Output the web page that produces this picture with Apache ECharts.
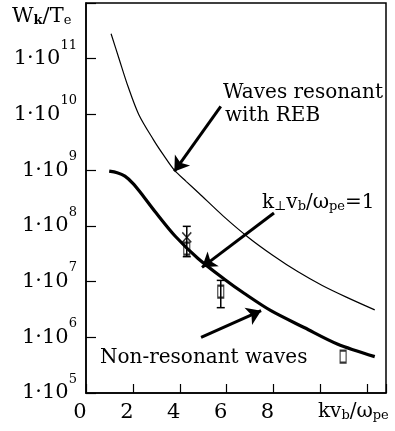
<!DOCTYPE html>
<html>
<head>
<meta charset="utf-8">
<script src="https://cdn.jsdelivr.net/npm/echarts@6/dist/echarts.min.js"></script>
<style>
  html, body { margin: 0; padding: 0; background: #fff; }
  #chart { width: 395px; height: 431px; }
</style>
</head>
<body>
<div id="chart"></div>
<script>
// upper curve: waves resonant with REB
const thinX = [1.07, 1.41, 1.79, 2.25, 2.88, 3.31, 3.77, 4.27, 4.82, 5.87, 6.93, 7.98, 9.03, 10.08, 11.13, 12.32];
const thinY = [2.8e11, 1.0e11, 3.2e10, 1.0e10, 3.5e9, 1.86e9, 1.0e9, 6.3e8, 3.85e8, 1.48e8, 6.2e7, 2.94e7, 1.51e7, 8.5e6, 5.2e6, 3.1e6];
// lower curve: non-resonant waves
const thickX = [0.99, 1.33, 1.66, 2.0, 2.34, 2.97, 3.81, 4.78, 5.92, 6.76, 7.89, 9.33, 10.72, 12.32];
const thickY = [9.6e8, 9.0e8, 7.8e8, 5.8e8, 3.9e8, 1.75e8, 6.5e7, 2.6e7, 1.09e7, 6.1e6, 3.0e6, 1.48e6, 7.6e5, 4.5e5];
// measured points (open squares) with error bars
const boxX = [4.3, 5.75, 10.97];
const boxY = [3.9e7, 6.6e6, 4.5e5];
const errLow = [2.8e7, 3.4e6, null];
const errHigh = [9.8e7, 1.05e7, null];
// cross marker
const crossX = [4.3];
const crossY = [6.2e7];
// x tick labels shown
const xLabels = [0, 2, 4, 6, 8];

const serif = '"DejaVu Serif", "Liberation Serif", serif';
const ink = '#000';

const chart = echarts.init(document.getElementById('chart'));

let errData = [];
boxX.forEach((x, i) => {
  if (errLow[i] != null) errData.push([x, errLow[i], errHigh[i]]);
});

const sub = { fontSize: 13, fontFamily: serif, color: ink, lineHeight: 14, verticalAlign: 'bottom' };
const subB = Object.assign({}, sub, { fontWeight: 'bold' });

chart.setOption({
  animation: false,
  grid: { left: 86, right: 5, top: 3, bottom: 38, show: true, borderColor: '#000', borderWidth: 1.5 },
  xAxis: {
    type: 'value', min: 0, max: 12.8, interval: 2,
    axisLine: { lineStyle: { color: '#000', width: 1.5 } },
    axisTick: { inside: true, length: 9, lineStyle: { color: '#000', width: 1.2 } },
    splitLine: { show: false },
    axisLabel: {
      margin: 9, color: ink, fontSize: 21, fontFamily: serif, lineHeight: 21,
      padding: [0, 12, 0, 0],
      formatter: v => xLabels.indexOf(v) >= 0 ? String(v) : ''
    }
  },
  yAxis: {
    type: 'log', logBase: 10, min: 1e5, max: 1e12, splitNumber: 7,
    axisLine: { lineStyle: { color: '#000', width: 1.5 } },
    axisTick: { inside: true, length: 10, lineStyle: { color: '#000', width: 1.2 } },
    splitLine: { show: false },
    axisLabel: {
      margin: 9, color: ink, fontSize: 21, fontFamily: serif, lineHeight: 40,
      formatter: v => {
        const e = Math.round(Math.log10(v));
        if (e > 11) return '';
        return '1·10{s|' + e + '}';
      },
      rich: { s: { fontSize: 13, fontFamily: serif, color: ink, lineHeight: 14, verticalAlign: 'top' } }
    }
  },
  graphic: [
    { type: 'text', left: 12, top: 6, style: {
      text: 'W{k|k}/T{e|e}', font: '21px ' + serif, fill: ink,
      rich: { k: subB, e: sub }
    } },
    { type: 'text', x: 223, y: 93, style: { text: 'Waves resonant', font: '20px ' + serif, fill: ink, verticalAlign: 'middle' } },
    { type: 'text', x: 225, y: 116, style: { text: 'with REB', font: '20px ' + serif, fill: ink, verticalAlign: 'middle' } },
    { type: 'text', x: 262, y: 203, style: {
      text: 'k{s|⊥}v{s|b}/ω{s|pe}=1', fill: ink, verticalAlign: 'middle',
      fontSize: 20, fontFamily: serif, rich: { s: sub }
    } },
    { type: 'text', x: 100, y: 358, style: { text: 'Non-resonant waves', font: '20px ' + serif, fill: ink, verticalAlign: 'middle' } },
    { type: 'text', x: 318, y: 412, style: {
      text: 'kv{s|b}/ω{s|pe}', fill: ink, verticalAlign: 'middle',
      fontSize: 20, fontFamily: serif, rich: { s: sub }
    } }
  ],
  series: [
    {
      type: 'line', data: thinX.map((x, i) => [x, thinY[i]]),
      smooth: 0.3, showSymbol: false, lineStyle: { color: '#000', width: 1.2 },
      markLine: {
        silent: true, symbol: ['none', 'arrow'], symbolSize: 14,
        label: { show: false },
        lineStyle: { color: '#000', width: 3, type: 'solid' },
        data: [
          [{ coord: [5.75, 1.4e10] }, { coord: [3.77, 9.5e8] }],
          [{ coord: [8.02, 1.7e8] }, { coord: [4.95, 1.8e7] }],
          [{ coord: [4.91, 1.0e6] }, { coord: [7.47, 3.0e6] }]
        ]
      }
    },
    {
      type: 'line', data: thickX.map((x, i) => [x, thickY[i]]),
      smooth: 0.3, showSymbol: false, lineStyle: { color: '#000', width: 3.2 }
    },
    {
      type: 'custom', data: errData, z: 5,
      renderItem: (params, api) => {
        const x = api.value(0);
        const pLo = api.coord([x, api.value(1)]);
        const pHi = api.coord([x, api.value(2)]);
        const st = { stroke: '#000', lineWidth: 1.5 };
        return {
          type: 'group', children: [
            { type: 'line', shape: { x1: pLo[0], y1: pLo[1], x2: pHi[0], y2: pHi[1] }, style: st },
            { type: 'line', shape: { x1: pLo[0] - 4, y1: pLo[1], x2: pLo[0] + 4, y2: pLo[1] }, style: st },
            { type: 'line', shape: { x1: pHi[0] - 4, y1: pHi[1], x2: pHi[0] + 4, y2: pHi[1] }, style: st }
          ]
        };
      }
    },
    {
      type: 'scatter', data: boxX.map((x, i) => [x, boxY[i]]), z: 6,
      symbol: 'rect', symbolSize: [6, 12],
      itemStyle: { color: 'rgba(0,0,0,0)', borderColor: '#000', borderWidth: 1.5 }
    },
    {
      type: 'scatter', data: crossX.map((x, i) => [x, crossY[i]]), z: 6,
      symbol: 'path://M0,0L10,10M10,0L0,10', symbolSize: [9, 10],
      itemStyle: { color: 'rgba(0,0,0,0)', borderColor: '#000', borderWidth: 1.5 }
    }
  ]
});
</script>
</body>
</html>
